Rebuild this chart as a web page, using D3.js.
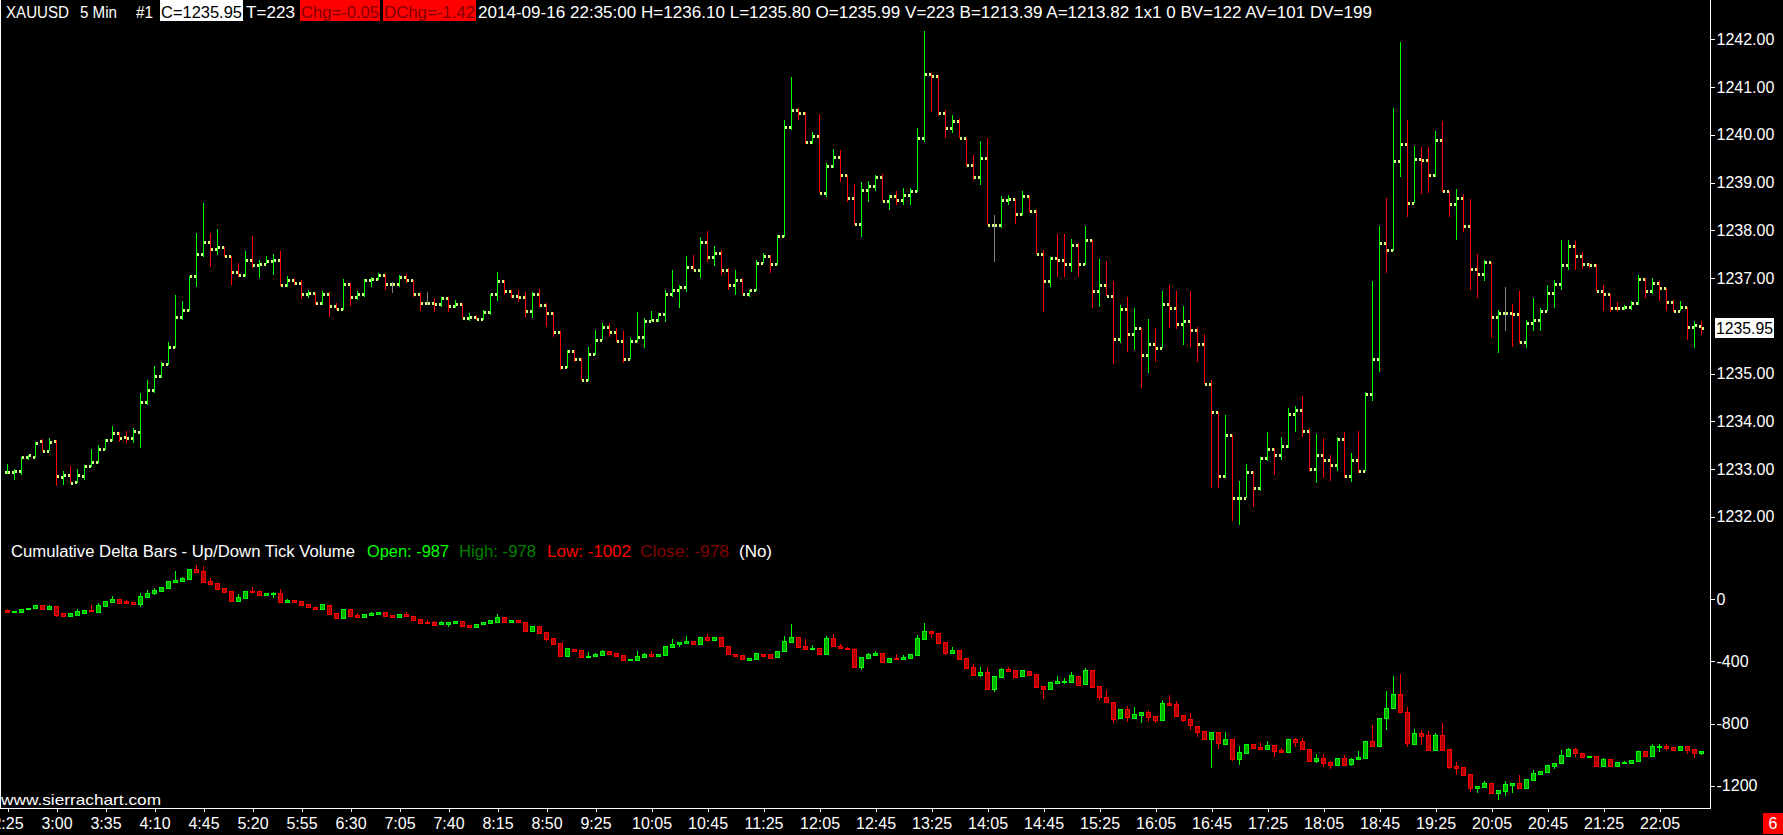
<!DOCTYPE html>
<html>
<head>
<meta charset="utf-8">
<script src="https://cdn.jsdelivr.net/npm/d3@7"></script>
<style>
  body { margin: 0; background: #000; overflow: hidden; }
  svg { display: block; }
  text { font-family: "Liberation Sans", Arial, sans-serif; }
</style>
</head>
<body>
<svg id="chart" width="1783" height="835"></svg>
<script>
// XAUUSD 5 min bars, 2:25 .. 22:35 (index 0..242)
const priceOpen = [
1232.93,1232.93,1232.96,1233.25,1233.25,1233.58,1233.37,1233.58,1232.83,1232.87,
1232.72,1232.85,1233.06,1233.14,1233.41,1233.60,1233.75,1233.66,1233.64,1233.77,
1234.40,1234.66,1234.95,1235.19,1235.55,1236.18,1236.32,1237.04,1237.50,1237.76,
1237.61,1237.64,1237.46,1237.13,1237.06,1237.38,1237.27,1237.29,1237.36,1237.38,
1236.85,1236.95,1236.89,1236.66,1236.68,1236.47,1236.66,1236.42,1236.35,1236.87,
1236.60,1236.66,1236.96,1236.98,1237.06,1236.87,1236.87,1237.03,1236.96,1236.66,
1236.47,1236.47,1236.45,1236.58,1236.42,1236.46,1236.17,1236.19,1236.14,1236.28,
1236.66,1236.94,1236.72,1236.62,1236.61,1236.30,1236.66,1236.44,1236.26,1235.86,
1235.13,1235.47,1235.30,1234.87,1235.41,1235.70,1235.97,1235.86,1235.68,1235.30,
1235.68,1235.76,1236.09,1236.12,1236.24,1236.66,1236.75,1236.82,1237.24,1237.17,
1237.76,1237.43,1237.53,1237.17,1236.85,1236.96,1236.67,1236.75,1237.32,1237.46,
1237.29,1237.88,1240.16,1240.52,1240.45,1239.85,1239.97,1238.79,1239.35,1239.53,
1239.16,1238.68,1238.13,1238.85,1238.93,1239.12,1238.61,1238.71,1238.64,1238.73,
1238.82,1239.93,1241.27,1241.24,1240.45,1240.14,1240.28,1239.93,1239.37,1239.12,
1239.51,1238.11,1238.11,1238.64,1238.66,1238.34,1238.71,1238.41,1237.50,1236.93,
1237.41,1237.38,1237.29,1237.69,1237.29,1237.80,1236.72,1236.86,1236.63,1235.72,
1236.35,1235.82,1235.95,1235.39,1235.61,1235.54,1236.45,1236.37,1236.03,1236.10,
1235.91,1235.61,1234.78,1234.19,1232.86,1233.71,1232.39,1232.40,1232.93,1232.60,
1233.23,1233.42,1233.30,1233.49,1234.15,1234.24,1233.80,1233.00,1233.30,1233.19,
1233.09,1233.62,1232.86,1233.19,1232.95,1234.57,1235.30,1237.73,1237.59,1239.45,
1239.80,1238.57,1239.49,1239.47,1239.16,1239.89,1238.82,1238.54,1238.67,1238.08,
1237.19,1237.08,1237.33,1236.19,1236.26,1236.26,1236.24,1235.67,1236.05,1236.12,
1236.30,1236.68,1236.87,1237.27,1237.68,1237.47,1237.29,1237.27,1236.72,1236.66,
1236.38,1236.37,1236.40,1236.47,1236.98,1236.72,1236.89,1236.79,1236.49,1236.31,
1236.40,1235.98,1235.99];
const priceHigh = [
1233.11,1232.99,1233.26,1233.29,1233.57,1233.62,1233.64,1233.61,1232.96,1233.06,
1233.00,1233.09,1233.42,1233.50,1233.62,1233.90,1233.78,1233.80,1233.86,1234.59,
1234.87,1235.15,1235.25,1235.65,1236.65,1236.51,1237.05,1237.94,1238.57,1237.94,
1238.03,1237.64,1237.47,1237.31,1237.57,1237.88,1237.38,1237.46,1237.50,1237.57,
1237.04,1237.01,1236.96,1236.75,1236.68,1236.72,1236.70,1236.47,1236.97,1236.89,
1236.72,1236.97,1237.03,1237.10,1237.09,1236.91,1237.06,1237.09,1236.96,1236.68,
1236.70,1236.58,1236.60,1236.61,1236.53,1236.47,1236.26,1236.23,1236.32,1236.67,
1237.13,1236.95,1236.75,1236.75,1236.70,1236.70,1236.77,1236.47,1236.28,1235.88,
1235.49,1235.49,1235.32,1235.56,1235.91,1236.05,1236.05,1235.96,1235.88,1235.74,
1236.28,1236.16,1236.31,1236.26,1236.75,1237.17,1236.85,1237.46,1237.48,1237.85,
1237.99,1237.67,1237.59,1237.20,1237.17,1236.99,1236.75,1237.38,1237.52,1237.48,
1237.90,1240.30,1241.21,1240.55,1240.48,1240.05,1240.43,1239.40,1239.70,1239.68,
1239.16,1238.96,1239.02,1239.03,1239.16,1239.18,1238.74,1238.83,1238.88,1238.88,
1240.14,1242.17,1241.29,1241.25,1240.52,1240.42,1240.33,1239.93,1239.58,1239.87,
1239.93,1238.32,1238.71,1238.73,1238.66,1238.82,1238.74,1238.43,1237.59,1237.45,
1237.92,1237.92,1237.82,1237.73,1238.09,1237.80,1237.40,1237.36,1236.94,1236.44,
1236.61,1236.38,1235.95,1236.14,1235.96,1236.72,1236.86,1236.73,1236.42,1236.73,
1235.98,1235.82,1234.87,1234.20,1234.13,1233.71,1232.75,1233.10,1232.95,1233.26,
1233.77,1233.44,1233.68,1234.27,1234.31,1234.52,1233.84,1233.73,1233.64,1233.30,
1233.66,1233.78,1233.33,1233.80,1234.62,1236.93,1238.08,1238.68,1240.56,1241.95,
1240.31,1239.77,1239.75,1239.75,1240.08,1240.29,1238.82,1238.87,1238.75,1238.66,
1237.50,1237.38,1237.33,1236.33,1236.82,1236.45,1236.72,1236.12,1236.59,1236.38,
1236.86,1236.96,1237.80,1237.80,1237.78,1237.55,1237.31,1237.29,1236.86,1236.66,
1236.49,1236.44,1236.51,1237.07,1236.99,1237.01,1236.93,1236.79,1236.54,1236.51,
1236.40,1236.10,1236.10];
const priceLow = [
1232.90,1232.78,1232.88,1233.18,1233.23,1233.37,1233.37,1232.64,1232.67,1232.70,
1232.70,1232.77,1233.04,1233.12,1233.40,1233.59,1233.57,1233.55,1233.55,1233.45,
1234.34,1234.60,1234.90,1235.17,1235.53,1236.12,1236.30,1236.82,1237.45,1237.24,
1237.48,1237.45,1236.86,1237.03,1237.03,1237.20,1237.01,1237.29,1237.06,1236.84,
1236.82,1236.85,1236.56,1236.58,1236.44,1236.44,1236.19,1236.34,1236.33,1236.41,
1236.53,1236.61,1236.81,1236.96,1236.74,1236.68,1236.82,1236.90,1236.60,1236.30,
1236.44,1236.28,1236.40,1236.28,1236.37,1236.16,1236.09,1236.12,1236.12,1236.23,
1236.51,1236.65,1236.58,1236.49,1236.19,1236.17,1236.40,1235.98,1235.77,1235.08,
1235.11,1235.25,1234.86,1234.85,1235.39,1235.70,1235.77,1235.67,1235.21,1235.30,
1235.67,1235.54,1236.09,1236.07,1236.07,1236.61,1236.38,1236.70,1237.16,1236.99,
1237.34,1237.26,1237.06,1236.75,1236.65,1236.66,1236.61,1236.72,1237.31,1237.10,
1237.27,1237.86,1240.10,1240.30,1239.80,1239.80,1238.77,1238.70,1239.30,1239.02,
1238.60,1238.11,1237.85,1238.60,1238.83,1238.61,1238.43,1238.53,1238.53,1238.53,
1238.81,1239.84,1240.47,1240.40,1239.94,1240.03,1239.93,1239.35,1239.05,1238.94,
1238.11,1237.34,1238.04,1238.53,1238.13,1238.32,1238.38,1237.50,1236.28,1236.82,
1237.03,1237.02,1237.13,1237.03,1237.27,1236.37,1236.40,1236.62,1235.19,1235.63,
1235.45,1235.49,1234.69,1235.02,1235.24,1235.54,1235.96,1235.93,1235.59,1235.56,
1235.25,1234.78,1232.60,1232.61,1232.81,1231.92,1231.83,1232.39,1232.21,1232.53,
1233.16,1232.88,1233.19,1233.45,1233.78,1233.66,1232.95,1232.70,1232.82,1232.75,
1232.95,1232.82,1232.72,1232.91,1232.95,1234.43,1235.04,1237.10,1237.57,1239.12,
1238.27,1238.57,1238.75,1238.78,1239.12,1238.81,1238.27,1237.80,1237.97,1236.75,
1236.58,1236.93,1235.74,1235.42,1235.88,1235.56,1235.63,1235.53,1235.89,1235.88,
1236.30,1236.37,1236.75,1237.17,1237.17,1237.19,1237.20,1236.72,1236.31,1236.28,
1236.30,1236.32,1236.32,1236.44,1236.59,1236.66,1236.51,1236.30,1236.28,1236.30,
1235.70,1235.53,1235.80];
const priceClose = [
1232.94,1232.96,1233.25,1233.29,1233.54,1233.37,1233.57,1232.85,1232.87,1232.70,
1232.87,1233.06,1233.14,1233.41,1233.60,1233.75,1233.64,1233.64,1233.79,1234.40,
1234.66,1234.95,1235.19,1235.55,1236.18,1236.32,1237.04,1237.50,1237.76,1237.61,
1237.64,1237.46,1237.13,1237.06,1237.38,1237.27,1237.29,1237.36,1237.38,1236.85,
1236.95,1236.89,1236.66,1236.68,1236.47,1236.66,1236.42,1236.35,1236.87,1236.60,
1236.66,1236.96,1236.98,1237.06,1236.87,1236.87,1237.03,1236.96,1236.66,1236.47,
1236.47,1236.45,1236.58,1236.42,1236.46,1236.17,1236.19,1236.14,1236.28,1236.66,
1236.94,1236.72,1236.62,1236.61,1236.30,1236.66,1236.44,1236.26,1235.86,1235.13,
1235.47,1235.30,1234.87,1235.41,1235.70,1235.97,1235.86,1235.68,1235.30,1235.68,
1235.76,1236.09,1236.12,1236.24,1236.66,1236.75,1236.82,1237.24,1237.17,1237.76,
1237.43,1237.53,1237.17,1236.85,1236.96,1236.67,1236.75,1237.32,1237.46,1237.29,
1237.88,1240.16,1240.52,1240.45,1239.85,1239.97,1238.79,1239.35,1239.53,1239.16,
1238.68,1238.13,1238.85,1238.93,1239.12,1238.61,1238.71,1238.64,1238.73,1238.82,
1239.93,1241.27,1241.24,1240.45,1240.14,1240.28,1239.93,1239.37,1239.12,1239.51,
1238.11,1238.11,1238.64,1238.66,1238.34,1238.71,1238.41,1237.50,1236.93,1237.41,
1237.38,1237.29,1237.69,1237.29,1237.80,1236.72,1236.86,1236.63,1235.72,1236.35,
1235.82,1235.95,1235.39,1235.61,1235.54,1236.45,1236.37,1236.03,1236.10,1235.91,
1235.61,1234.78,1234.19,1232.86,1233.71,1232.39,1232.40,1232.93,1232.60,1233.23,
1233.42,1233.30,1233.49,1234.15,1234.24,1233.80,1233.00,1233.30,1233.19,1233.09,
1233.62,1232.86,1233.19,1232.95,1234.57,1235.30,1237.73,1237.59,1239.45,1239.80,
1238.57,1239.49,1239.47,1239.16,1239.89,1238.82,1238.54,1238.67,1238.08,1237.19,
1237.08,1237.33,1236.19,1236.26,1236.26,1236.24,1235.67,1236.05,1236.12,1236.30,
1236.68,1236.87,1237.27,1237.68,1237.47,1237.29,1237.27,1236.72,1236.66,1236.38,
1236.37,1236.40,1236.47,1236.98,1236.72,1236.89,1236.79,1236.49,1236.31,1236.40,
1235.98,1236.02,1235.95];

// Cumulative delta bars (up/down tick volume)
const deltaOpen = [
-71,-80,-80,-62,-58,-39,-62,-43,-90,-105,
-101,-86,-67,-80,-41,-15,2,-13,-15,-30,
17,39,56,75,114,120,133,195,182,120,
105,73,53,-9,11,56,53,30,39,41,
-15,-4,-11,-30,-47,-60,-37,-90,-118,-62,
-99,-112,-99,-97,-84,-101,-112,-95,-105,-127,
-144,-144,-161,-157,-150,-140,-163,-176,-159,-150,
-144,-114,-144,-133,-148,-202,-174,-210,-251,-281,
-363,-318,-326,-369,-365,-359,-333,-348,-359,-391,
-391,-369,-354,-363,-359,-307,-290,-279,-268,-288,
-243,-262,-245,-301,-350,-359,-391,-382,-350,-354,
-374,-331,-273,-245,-301,-322,-311,-352,-251,-301,
-311,-322,-434,-378,-358,-348,-401,-376,-382,-376,
-356,-253,-204,-219,-277,-348,-328,-380,-438,-487,
-470,-575,-498,-449,-457,-492,-464,-483,-558,-580,
-537,-532,-530,-492,-547,-457,-560,-629,-663,-766,
-706,-762,-745,-726,-751,-775,-670,-676,-747,-773,
-816,-848,-899,-856,-931,-899,-1026,-987,-932,-951,
-964,-940,-970,-981,-901,-914,-966,-1039,-1024,-1047,
-1065,-1024,-1062,-1030,-1019,-914,-942,-766,-702,-612,
-728,-931,-863,-876,-970,-876,-966,-1073,-1082,-1127,
-1213,-1206,-1185,-1245,-1232,-1193,-1183,-1213,-1161,-1122,
-1110,-1071,-1056,-1006,-966,-992,-1011,-1011,-1071,-1028,
-1071,-1054,-1052,-1039,-979,-1006,-949,-942,-951,-970,
-942,-964,-987];
const deltaHigh = [
-62,-75,-62,-58,-39,-39,-37,-43,-86,-90,
-62,-69,-37,-26,-11,21,2,-5,-15,39,
60,71,77,116,182,146,193,221,214,135,
105,73,53,32,53,77,53,43,47,66,
-1,-4,-11,-30,-47,-30,-37,-90,-65,-62,
-90,-95,-82,-82,-84,-101,-92,-84,-105,-127,
-133,-137,-137,-144,-137,-140,-163,-159,-144,-135,
-95,-114,-133,-133,-148,-174,-174,-210,-251,-281,
-311,-318,-326,-341,-343,-326,-333,-348,-359,-384,
-331,-348,-335,-350,-303,-258,-277,-236,-268,-243,
-223,-243,-245,-301,-350,-359,-378,-348,-350,-354,
-333,-236,-159,-245,-256,-296,-311,-238,-223,-290,
-305,-316,-374,-343,-335,-348,-380,-354,-361,-354,
-230,-150,-204,-219,-277,-309,-328,-380,-416,-438,
-438,-494,-440,-438,-457,-457,-464,-483,-558,-534,
-494,-509,-470,-492,-440,-457,-560,-584,-663,-706,
-687,-693,-726,-713,-751,-648,-616,-657,-747,-734,
-816,-848,-854,-856,-854,-899,-944,-932,-932,-921,
-912,-940,-959,-901,-895,-895,-966,-996,-996,-1039,
-1024,-1004,-1024,-977,-912,-809,-766,-590,-494,-481,
-691,-837,-841,-850,-863,-798,-966,-1047,-1082,-1127,
-1202,-1170,-1185,-1228,-1170,-1180,-1131,-1159,-1101,-1105,
-1067,-1054,-970,-959,-959,-992,-1009,-1011,-1024,-1028,
-1047,-1039,-1034,-977,-979,-931,-931,-934,-951,-942,
-942,-964,-978];
const deltaLow = [
-84,-81,-80,-62,-58,-62,-62,-112,-112,-105,
-101,-94,-80,-80,-41,-15,-22,-30,-28,-47,
17,30,56,75,114,111,133,167,114,92,
69,49,-15,-9,11,43,23,30,11,-15,
-15,-15,-35,-52,-60,-60,-95,-118,-118,-107,
-118,-112,-99,-97,-105,-114,-112,-105,-133,-161,
-155,-163,-161,-176,-150,-170,-176,-176,-159,-150,
-144,-144,-144,-148,-202,-202,-215,-266,-286,-363,
-363,-331,-369,-369,-365,-359,-352,-363,-391,-391,
-391,-369,-365,-363,-359,-307,-309,-279,-286,-288,
-262,-262,-303,-354,-363,-386,-391,-382,-363,-376,
-374,-331,-273,-305,-320,-322,-352,-352,-301,-322,
-325,-434,-455,-386,-358,-401,-412,-384,-382,-382,
-356,-253,-251,-279,-361,-348,-382,-440,-487,-502,
-575,-595,-498,-462,-498,-492,-485,-562,-642,-580,
-537,-547,-530,-556,-547,-562,-648,-663,-798,-766,
-788,-771,-798,-788,-794,-775,-678,-751,-788,-841,
-884,-899,-1084,-964,-931,-1039,-1067,-987,-955,-970,
-964,-1013,-992,-981,-949,-966,-1039,-1056,-1082,-1095,
-1065,-1073,-1071,-1030,-1019,-953,-942,-841,-702,-734,
-953,-938,-938,-968,-970,-968,-1092,-1131,-1131,-1238,
-1245,-1213,-1256,-1292,-1264,-1245,-1213,-1213,-1161,-1122,
-1110,-1092,-1056,-1006,-1013,-1013,-1011,-1071,-1071,-1071,
-1071,-1060,-1052,-1039,-1011,-1006,-981,-968,-968,-970,
-996,-1019,-1002];
const deltaClose = [
-80,-76,-62,-58,-39,-62,-43,-101,-105,-90,
-73,-69,-76,-37,-11,2,-22,-24,-28,21,
41,60,77,116,126,137,193,178,114,99,
69,49,-9,15,53,47,30,43,43,-15,
-4,-15,-35,-52,-60,-30,-95,-118,-65,-107,
-114,-95,-90,-82,-105,-114,-92,-105,-133,-152,
-150,-163,-148,-144,-137,-170,-176,-159,-144,-135,
-114,-144,-133,-148,-202,-174,-215,-253,-286,-363,
-311,-331,-369,-363,-352,-333,-352,-363,-391,-384,
-367,-352,-365,-350,-303,-288,-277,-268,-286,-243,
-262,-243,-303,-354,-363,-386,-378,-348,-363,-376,
-333,-268,-245,-305,-320,-311,-352,-251,-301,-311,
-322,-434,-374,-354,-343,-401,-380,-384,-371,-354,
-251,-204,-219,-279,-348,-326,-382,-440,-487,-468,
-575,-494,-451,-462,-498,-457,-485,-562,-580,-534,
-526,-524,-489,-550,-455,-562,-631,-663,-768,-706,
-760,-741,-726,-756,-775,-670,-678,-751,-775,-811,
-852,-899,-854,-927,-899,-1028,-983,-932,-955,-964,
-938,-974,-981,-901,-916,-966,-1039,-1024,-1052,-1065,
-1024,-1065,-1030,-1017,-912,-942,-766,-702,-612,-728,
-927,-863,-878,-968,-876,-968,-1077,-1086,-1131,-1213,
-1202,-1185,-1245,-1228,-1191,-1180,-1213,-1159,-1120,-1105,
-1067,-1054,-1002,-966,-992,-1013,-1008,-1071,-1028,-1071,
-1047,-1045,-1034,-977,-1006,-944,-944,-955,-968,-942,
-970,-987,-978];

const timeLabels = ["2:25","3:00","3:35","4:10","4:45","5:20","5:55","6:30","7:05","7:40","8:15","8:50","9:25",
  "10:05","10:45","11:25","12:05","12:45","13:25","14:05","14:45","15:25","16:05","16:45","17:25","18:05",
  "18:45","19:25","20:05","20:45","21:25","22:05"];
const timeLabelBars = [0,7,14,21,28,35,42,49,56,63,70,77,84,92,100,108,116,124,132,140,148,156,164,172,180,188,196,204,212,220,228,236];
const priceTicks = [1232,1233,1234,1235,1237,1238,1239,1240,1241,1242];
const deltaTicks = [0,-400,-800,-1200];
const lastPrice = 1235.95;

const W = 1783, H = 835;
const axisX = 1710, bottomY = 808;

const svg = d3.select("#chart").attr("shape-rendering", "crispEdges");
svg.append("rect").attr("width", W).attr("height", H).attr("fill", "#000");

const bars = d3.range(priceClose.length);
const x = d3.scaleLinear().domain([0, 242]).range([7, 1701]);
const yPrice = d3.scaleLinear().domain([1232, 1242]).range([516.75, 39.25]);
const yDelta = d3.scaleLinear().domain([-1200, 0]).range([785.7, 599.3]);

function dirColor(o, c) {
  if (c > o) return "#00ff00";
  if (c < o) return "#ff0000";
  return "#808080";
}

// price bars: high/low line, open tick left, close tick right
const pg = svg.append("g");
bars.forEach(i => {
  const px = Math.round(x(i));
  const o = priceOpen[i], c = priceClose[i];
  const hi = Math.max(priceHigh[i], o, c), lo = Math.min(priceLow[i], o, c);
  const yH = Math.round(yPrice(hi)), yL = Math.round(yPrice(lo));
  pg.append("rect").attr("x", px).attr("y", yH).attr("width", 1).attr("height", Math.max(1, yL - yH))
    .attr("fill", dirColor(o, c));
  pg.append("rect").attr("x", px - 2).attr("y", Math.round(yPrice(o)) - 1).attr("width", 2).attr("height", 3)
    .attr("fill", "#ccff80");
  pg.append("rect").attr("x", px + 1).attr("y", Math.round(yPrice(c)) - 1).attr("width", 2).attr("height", 3)
    .attr("fill", "#ccff80");
});

// cumulative delta candles
const dg = svg.append("g");
bars.forEach(i => {
  const px = Math.round(x(i));
  const o = deltaOpen[i], c = deltaClose[i];
  const up = c >= o;
  const line = up ? "#00ff00" : "#ff0000";
  const fill = up ? "#00b000" : "#b00000";
  const hi = Math.max(deltaHigh[i], o, c), lo = Math.min(deltaLow[i], o, c);
  const yH = Math.round(yDelta(hi)), yL = Math.round(yDelta(lo));
  dg.append("rect").attr("x", px).attr("y", yH).attr("width", 1).attr("height", Math.max(1, yL - yH)).attr("fill", line);
  const yT = Math.round(yDelta(Math.max(o, c))), yB = Math.round(yDelta(Math.min(o, c)));
  const h = Math.max(2, yB - yT + 1);
  dg.append("rect").attr("x", px - 2).attr("y", yT).attr("width", 5).attr("height", h).attr("fill", line);
  if (h > 2) dg.append("rect").attr("x", px - 1).attr("y", yT + 1).attr("width", 3).attr("height", h - 2).attr("fill", fill);
});

// frame
svg.append("rect").attr("x", 0).attr("y", 0).attr("width", 1).attr("height", bottomY + 1).attr("fill", "#fff");
svg.append("rect").attr("x", axisX).attr("y", 0).attr("width", 1).attr("height", bottomY + 1).attr("fill", "#fff");
svg.append("rect").attr("x", 0).attr("y", bottomY).attr("width", axisX + 1).attr("height", 1).attr("fill", "#fff");

function styleAxis(g, size) {
  g.select(".domain").remove();
  g.selectAll("line").attr("stroke", "#fff");
  g.selectAll("text").attr("fill", "#fff").style("font-size", size + "px")
    .style("font-family", "'Liberation Sans', Arial, sans-serif");
}

svg.append("g").attr("transform", `translate(${axisX + 0.5},0)`)
  .call(d3.axisRight(yPrice).tickValues(priceTicks).tickFormat(d3.format(".2f")).tickSize(4).tickPadding(2))
  .call(g => styleAxis(g, 16));

svg.append("g").attr("transform", `translate(${axisX + 0.5},0)`)
  .call(d3.axisRight(yDelta).tickValues(deltaTicks).tickFormat(d => d === 0 ? "0" : d).tickSize(4).tickPadding(2))
  .call(g => styleAxis(g, 16));

svg.append("g").attr("transform", `translate(0.5,${bottomY})`)
  .call(d3.axisBottom(x).tickValues(timeLabelBars).tickFormat((d, k) => timeLabels[k]).tickSize(4).tickPadding(6))
  .call(g => styleAxis(g, 16));

// last price marker
const lpY = yPrice(lastPrice);
svg.append("rect").attr("x", 1715).attr("y", Math.round(lpY) - 10).attr("width", 59).attr("height", 20).attr("fill", "#fff");
svg.append("text").attr("x", 1716).attr("y", lpY + 6).attr("fill", "#000").style("font-size", "16px")
  .attr("textLength", 57).attr("lengthAdjust", "spacingAndGlyphs").text(d3.format(".2f")(lastPrice));

// header line
function label(txt, x0, y0, w, color, size) {
  return svg.append("text").attr("x", x0).attr("y", y0).attr("fill", color).style("font-size", size + "px")
    .attr("textLength", w).attr("lengthAdjust", "spacingAndGlyphs").text(txt);
}
svg.append("rect").attr("x", 160).attr("y", 0).attr("width", 83).attr("height", 21).attr("fill", "#fff");
svg.append("rect").attr("x", 300).attr("y", 0).attr("width", 80).attr("height", 21).attr("fill", "#ff0000");
svg.append("rect").attr("x", 383).attr("y", 0).attr("width", 93).attr("height", 21).attr("fill", "#ff0000");
label("XAUUSD", 6, 17.5, 63, "#fff", 16);
label("5 Min", 80, 17.5, 37, "#fff", 16);
label("#1", 136, 17.5, 17, "#fff", 16);
label("C=1235.95", 161, 17.5, 81, "#000", 16);
label("T=223", 246, 17.5, 49, "#fff", 16);
label("Chg=-0.05", 301, 17.5, 78, "#800000", 16);
label("DChg=-1.42", 384, 17.5, 91, "#800000", 16);
label("2014-09-16 22:35:00 H=1236.10 L=1235.80 O=1235.99 V=223 B=1213.39 A=1213.82 1x1 0 BV=122 AV=101 DV=199",
  478, 17.5, 894, "#fff", 16);

// lower pane title
label("Cumulative Delta Bars - Up/Down Tick Volume", 11, 557, 344, "#fff", 16);
label("Open: -987", 367, 557, 82, "#00ff00", 16);
label("High: -978", 459, 557, 77, "#008000", 16);
label("Low: -1002", 547, 557, 84, "#ff0000", 16);
label("Close: -978", 640, 557, 89, "#800000", 16);
label("(No)", 739, 557, 33, "#fff", 16);

// watermark
label("www.sierrachart.com", 1, 805, 160, "#fff", 15);

// chart number box
svg.append("rect").attr("x", 1763).attr("y", 813).attr("width", 20).attr("height", 21).attr("fill", "#ff0000");
svg.append("text").attr("x", 1773).attr("y", 829).attr("text-anchor", "middle").attr("fill", "#fff")
  .style("font-size", "16px").text("6");
</script>
</body>
</html>
